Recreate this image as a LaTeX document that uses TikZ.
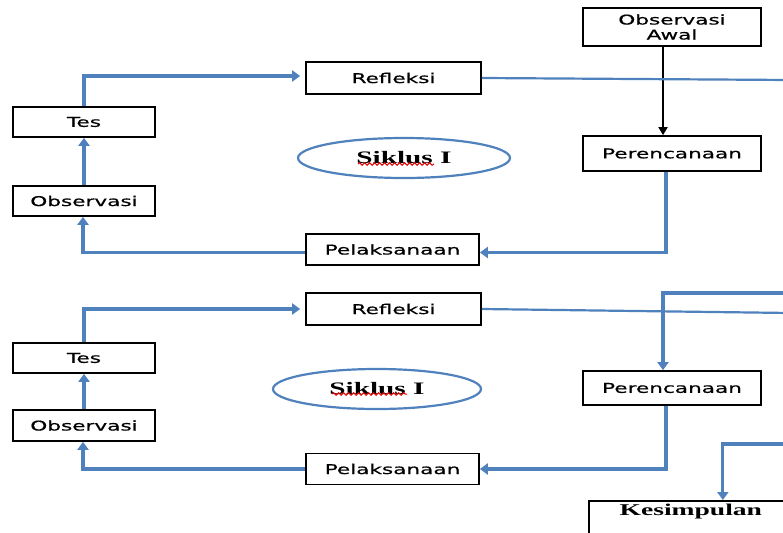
\documentclass[tikz,border=0pt]{standalone}
\usepackage{fontspec}
\usetikzlibrary{arrows.meta,shapes.geometric,decorations.pathmorphing}
\newfontfamily\boxfont[FakeStretch=1.6,FakeBold=0.6]{DejaVu Sans}
\newfontfamily\serifb[FakeStretch=1.67]{Liberation Serif}
\definecolor{cblue}{RGB}{79,129,189}
\begin{document}
\begin{tikzpicture}[x=1pt,y=-1pt,
  bx/.style={draw=black, line width=1.7pt, fill=white, inner sep=0pt,
    font=\boxfont\fontsize{13.5}{15}\selectfont, align=center},
  flow/.style={draw=cblue, line width=3.2pt, -{Triangle[length=8pt,width=11pt]}},
  thinline/.style={draw=cblue, line width=2.2pt},
  cyc/.style={ellipse, draw=cblue, line width=2.2pt, inner sep=0pt,
    font=\serifb\bfseries\fontsize{17.5}{20}\selectfont},
  squig/.style={draw=red!90!black, line width=1pt, decorate,
    decoration={snake, amplitude=1.3pt, segment length=5pt}}
]
\clip (0,0) rectangle (783,532);
\fill[white] (0,0) rectangle (783,532);

% ---- top cycle ----
\node[bx, minimum width=178pt, minimum height=38pt] (oa) at (672,27) {Observasi\\Awal};
\node[bx, minimum width=178pt, minimum height=35pt] (pr1) at (672,153.5) {Perencanaan};
\node[bx, minimum width=175pt, minimum height=32pt] (ref1) at (393.5,78) {Refleksi};
\node[bx, minimum width=142pt, minimum height=30pt] (tes1) at (84,122) {Tes};
\node[bx, minimum width=142pt, minimum height=30pt] (obs1) at (84,201) {Observasi};
\node[bx, minimum width=173pt, minimum height=31pt] (pel1) at (392.5,249.5) {Pelaksanaan};
\node[cyc, minimum width=212pt, minimum height=40pt] (ell1) at (404,158) {Siklus I};

% ---- bottom cycle ----
\node[bx, minimum width=175pt, minimum height=32pt] (ref2) at (393.5,309) {Refleksi};
\node[bx, minimum width=142pt, minimum height=30pt] (tes2) at (84,358) {Tes};
\node[bx, minimum width=142pt, minimum height=31pt] (obs2) at (84,425.5) {Observasi};
\node[bx, minimum width=178pt, minimum height=34pt] (pr2) at (672,388) {Perencanaan};
\node[bx, minimum width=173pt, minimum height=31pt] (pel2) at (392.5,469) {Pelaksanaan};
\node[cyc, minimum width=208pt, minimum height=40pt] (ell2) at (377,389) {Siklus I};

\node[draw=black, line width=1.7pt, anchor=north west, minimum width=204pt,
  text height=11pt, text depth=30pt, inner ysep=4pt, inner xsep=0pt,
  font=\serifb\bfseries\fontsize{16.5}{19}\selectfont] (kes) at (588,500) {Kesimpulan};

% free ends at the right edge
\coordinate (e1) at (790,80);
\coordinate (e2) at (790,313);
\coordinate (e2b) at (790,293);
\coordinate (e3) at (790,444);

% ---- connectors top ----
\draw[black, line width=1.7pt, -{Triangle[length=8pt,width=9pt]}]
  ([xshift=-9pt]oa.south) -- ([xshift=-9pt]pr1.north);
\draw[thinline] (ref1.east) -- (e1);
\draw[flow] ([xshift=-6pt]pr1.south) |- ([yshift=-3pt]pel1.east);
\draw[flow] ([yshift=-3pt]pel1.west) -| ([xshift=-1pt]obs1.south);
\draw[flow] (obs1.north) -- (tes1.south);
\draw[flow, shorten >=5pt] (tes1.north) |- ([yshift=2pt]ref1.west);

% ---- connectors bottom ----
\draw[thinline] (ref2.east) -- (e2);
\draw[flow] (e2b) -| ([xshift=-9pt]pr2.north);
\draw[flow] ([xshift=-6pt]pr2.south) |- (pel2.east);
\draw[flow] (pel2.west) -| ([xshift=-1pt]obs2.south);
\draw[flow] (obs2.north) -- (tes2.south);
\draw[flow, shorten >=5pt] (tes2.north) |- (ref2.west);
\draw[flow] (e3) -| ([xshift=32pt]kes.north);

% spell-check squiggles
\draw[squig] ([shift={(-46,6)}]ell1.center) -- ([shift={(30,6)}]ell1.center);
\draw[squig] ([shift={(-45,5)}]ell2.center) -- ([shift={(30,5)}]ell2.center);
\end{tikzpicture}
\end{document}
